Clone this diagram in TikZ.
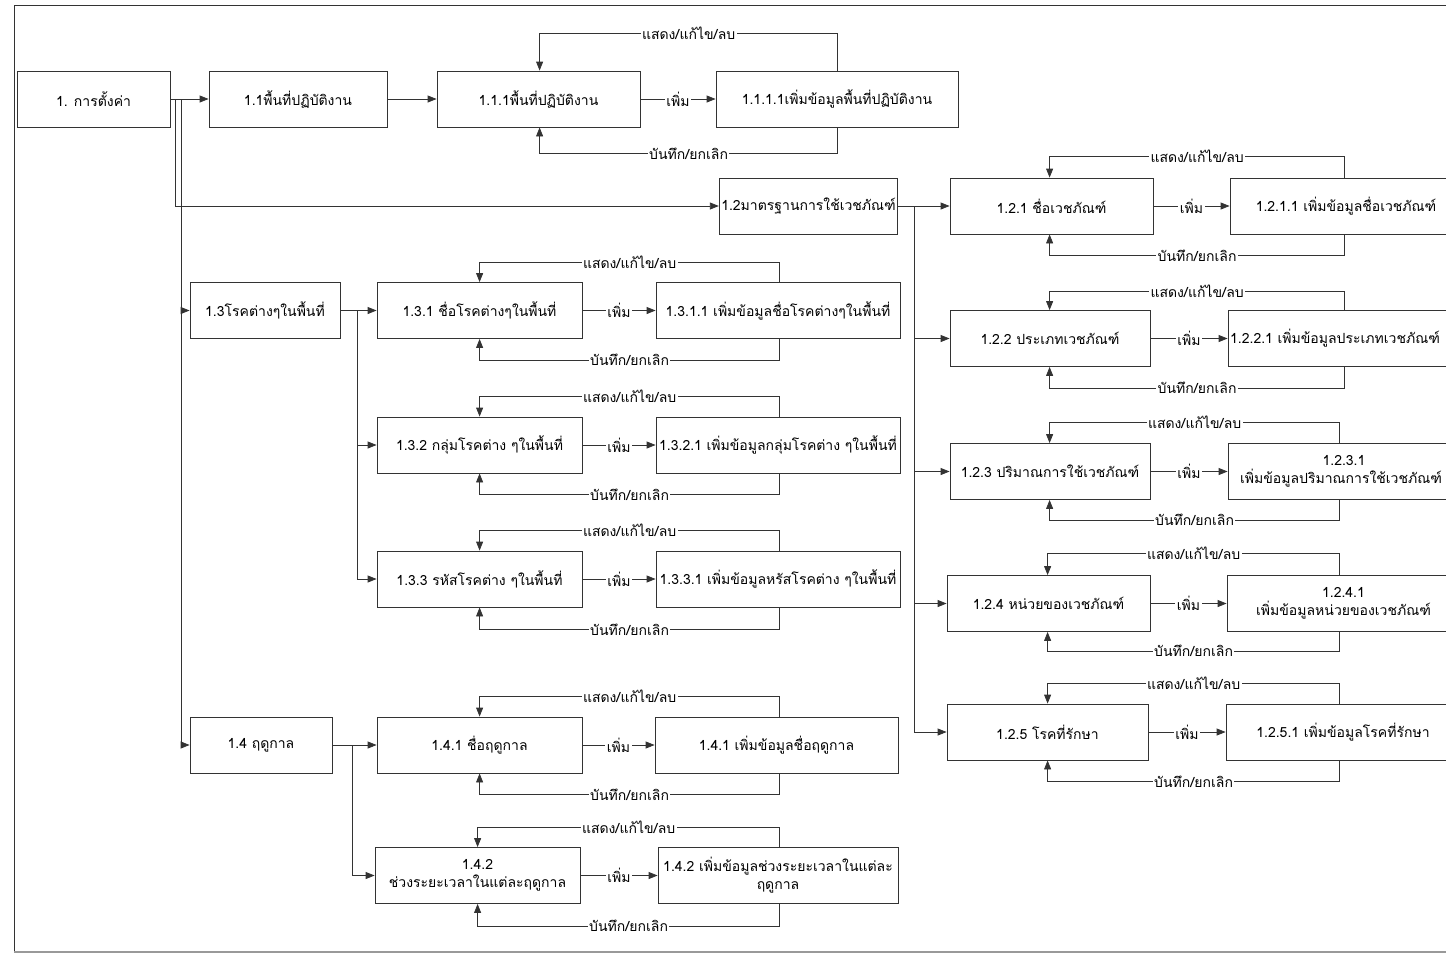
\documentclass[tikz,border=0pt]{standalone}
\usepackage{fontspec}
\setmainfont[Script=Thai]{Loma}
\usetikzlibrary{arrows.meta,calc}
\newcommand\fs{\fontsize{14}{18}\selectfont}
% feedback pair: #1 parent, #2 child, #3/#4 x offsets from west sides, #5/#6 gaps above/below
\newcommand\fbpair[6]{%
  \draw[arr] ($(#2.north west)+(#4,0)$) -- ++(0,-#5) -| node[lbl,pos=0.25]{แสดง/แก้ไข/ลบ} ($(#1.north west)+(#3,0)$);
  \draw[arr] ($(#2.south west)+(#4,0)$) -- ++(0,#6) -| node[lbl,pos=0.25]{บันทึก/ยกเลิก} ($(#1.south west)+(#3,0)$);
  \draw[arr] (#1.east) -- node[lbl]{เพิ่ม} (#2.west);
}
\begin{document}
\begin{tikzpicture}[x=1pt,y=-1pt,
  ln/.style={draw=black!80, line width=0.8pt},
  arr/.style={ln,-{Triangle[length=9pt,width=7pt]}},
  box/.style={draw=black!80, line width=0.8pt, minimum height=56pt, inner sep=2pt, align=center, font=\fs},
  lbl/.style={fill=white, inner sep=1.5pt, font=\fs},
]
\useasboundingbox (0,0) rectangle (1446,956);
% frame
\draw[ln] (14,952) -- (14,5) -- (1460,5);
\draw[black!40, line width=1.5pt] (14,952) -- (1460,952);

% level 1
\node[box, minimum width=153pt] (n1) at (93.5,99) {1. การตั้งค่า};
\node[box, minimum width=178pt] (n11) at (298,99) {1.1พื้นที่ปฏิบัติงาน};
\node[box, minimum width=203pt] (n111) at (538.5,99) {1.1.1พื้นที่ปฏิบัติงาน};
\node[box, minimum width=242pt] (n1111) at (837,99) {1.1.1.1เพิ่มข้อมูลพื้นที่ปฏิบัติงาน};

% 1.2 branch
\node[box, minimum width=177pt] (n12) at (808.5,206) {1.2มาตรฐานการใช้เวชภัณฑ์};
\node[box, minimum width=203pt] (n121) at (1051.5,206) {1.2.1 ชื่อเวชภัณฑ์};
\node[box, minimum width=232pt] (n1211) at (1346,206) {1.2.1.1 เพิ่มข้อมูลชื่อเวชภัณฑ์};
\node[box, minimum width=200pt] (n122) at (1050,338.5) {1.2.2 ประเภทเวชภัณฑ์};
\node[box, minimum width=232pt] (n1221) at (1344,338.5) {1.2.2.1 เพิ่มข้อมูลประเภทเวชภัณฑ์\hspace*{18pt}};
\node[box, minimum width=200pt] (n123) at (1050,471.5) {1.2.3 ปริมาณการใช้เวชภัณฑ์};
\node[box, minimum width=232pt] (n1231) at (1344,471.5) {1.2.3.1\\เพิ่มข้อมูลปริมาณการใช้เวชภัณฑ์\hspace*{6pt}};
\node[box, minimum width=203pt] (n124) at (1048.5,603.5) {1.2.4 หน่วยของเวชภัณฑ์};
\node[box, minimum width=233pt] (n1241) at (1343.5,603.5) {1.2.4.1\\เพิ่มข้อมูลหน่วยของเวชภัณฑ์};
\node[box, minimum width=201pt] (n125) at (1047.5,732) {1.2.5 โรคที่รักษา};
\node[box, minimum width=234pt] (n1251) at (1343,732) {1.2.5.1 เพิ่มข้อมูลโรคที่รักษา};

% 1.3 branch
\node[box, minimum width=150pt] (n13) at (265,310.5) {1.3โรคต่างๆในพื้นที่};
\node[box, minimum width=205pt] (n131) at (479.5,310.5) {1.3.1 ชื่อโรคต่างๆในพื้นที่};
\node[box, minimum width=244pt] (n1311) at (778,310.5) {1.3.1.1 เพิ่มข้อมูลชื่อโรคต่างๆในพื้นที่};
\node[box, minimum width=205pt] (n132) at (479.5,445) {1.3.2 กลุ่มโรคต่าง ๆในพื้นที่};
\node[box, minimum width=244pt] (n1321) at (778,445) {1.3.2.1 เพิ่มข้อมูลกลุ่มโรคต่าง ๆในพื้นที่};
\node[box, minimum width=205pt] (n133) at (479.5,579) {1.3.3 รหัสโรคต่าง ๆในพื้นที่};
\node[box, minimum width=244pt] (n1331) at (778,579) {1.3.3.1 เพิ่มข้อมูลหรัสโรคต่าง ๆในพื้นที่};

% 1.4 branch
\node[box, minimum width=142pt] (n14) at (261,745) {1.4 ฤดูกาล};
\node[box, minimum width=205pt] (n141) at (479.5,745) {1.4.1 ชื่อฤดูกาล};
\node[box, minimum width=243pt] (n1411) at (776.5,745) {1.4.1 เพิ่มข้อมูลชื่อฤดูกาล};
\node[box, minimum width=205pt] (n142) at (477.5,875.5) {1.4.2\\ช่วงระยะเวลาในแต่ละฤดูกาล};
\node[box, minimum width=240pt] (n1421) at (778,875.5) {1.4.2 เพิ่มข้อมูลช่วงระยะเวลาในแต่ละ\\ฤดูกาล};

% main tree
\draw[arr] (n1.east) -- (n11.west);
\draw[arr] (n11.east) -- (n111.west);
\draw[arr] (n1.east) -- ++(5,0) |- (n12.west);
\draw[arr] (n1.east) -- ++(11,0) |- (n13.west);
\draw[arr] ($(n1.east)+(11,0)$) |- (n14.west);

\draw[arr] (n12.east) -- (n121.west);
\foreach \t in {n122,n123,n124,n125}
  \draw[arr] ($(n12.east)+(16,0)$) |- (\t.west);

\draw[arr] (n13.east) -- (n131.west);
\foreach \t in {n132,n133}
  \draw[arr] ($(n13.east)+(17,0)$) |- (\t.west);

\draw[arr] (n14.east) -- (n141.west);
\draw[arr] ($(n14.east)+(20,0)$) |- (n142.west);

% add / save loops
\fbpair{n111}{n1111}{103}{122}{37}{26}
\fbpair{n121}{n1211}{100}{115}{21}{21}
\fbpair{n122}{n1221}{100}{117}{19}{21}
\fbpair{n123}{n1231}{100}{112}{21}{20}
\fbpair{n124}{n1241}{101}{113}{22}{19}
\fbpair{n125}{n1251}{101}{114}{20}{21}
\fbpair{n131}{n1311}{103}{124}{20}{21}
\fbpair{n132}{n1321}{103}{124}{20}{21}
\fbpair{n133}{n1331}{103}{124}{20}{22}
\fbpair{n141}{n1411}{103}{125}{20}{21}
\fbpair{n142}{n1421}{103}{122}{20}{22}
\end{tikzpicture}
\end{document}
